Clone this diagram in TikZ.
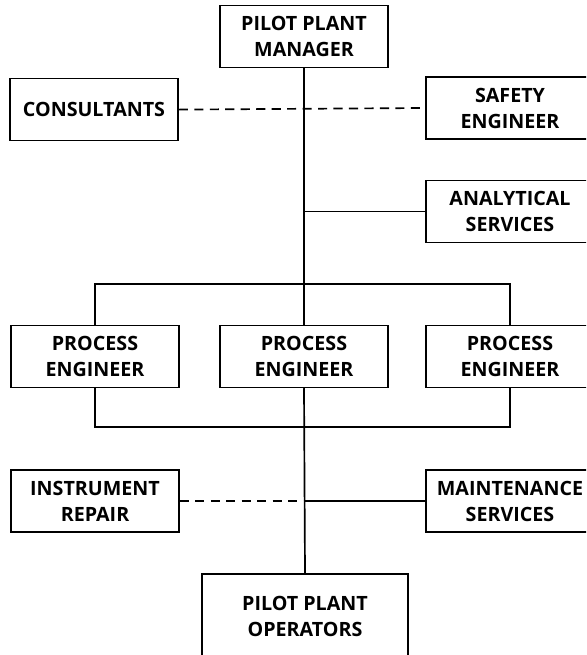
\documentclass[tikz,border=0pt]{standalone}
\usepackage{fontspec}
\setmainfont{Open Sans}
\tikzset{
    box/.style={draw,line width=1.2pt,minimum width=4.2cm,minimum height=1.55cm,align=center,anchor=center,
        font=\bfseries\fontsize{14}{18.5}\selectfont},
    link/.style={line width=1.2pt},
    dotlink/.style={line width=1.2pt,dash pattern=on 6.5pt off 4.5pt}
}
\begin{document}
\begin{tikzpicture}
        \useasboundingbox (0,0) rectangle (14.65,-16.375);
        \clip (0,0) rectangle (14.65,-16.375);
        % top level
        \node[box] (M) at (7.6,-0.91) {PILOT PLANT\\MANAGER};
        \node[box] (C) at (2.35,-2.74) {CONSULTANTS};
        \node[box] (S) at (12.75,-2.7) {SAFETY\\ENGINEER};
        \node[box] (An) at (12.75,-5.29) {ANALYTICAL\\SERVICES};
        % engineers
        \node[box] (P1) at (2.375,-8.91) {PROCESS\\ENGINEER};
        \node[box] (P2) at (7.6,-8.91) {PROCESS\\ENGINEER};
        \node[box] (P3) at (12.75,-8.91) {PROCESS\\ENGINEER};
        % support and operators
        \node[box] (IR) at (2.375,-12.525) {INSTRUMENT\\REPAIR};
        \node[box] (MS) at (12.75,-12.525) {MAINTENANCE\\SERVICES};
        \node[box,minimum width=5.15cm,minimum height=2.1cm] (O) at (7.625,-15.4) {PILOT PLANT\\OPERATORS};
        \draw[link] (M.south) -- (P2.north);
        \draw[dotlink] (C.east) -- (S.west);
        \draw[link] (An.west) -- (An.west -| M.south);
        \draw[link] (P1.north) -- ++(0,1.02) -| (P3.north);
        \draw[link] (P1.south) -- ++(0,-0.97) -| (P3.south);
        \draw[link] (P2.south) -- (O.north);
        \draw[dotlink] (IR.east) -- (IR.east -| P2.south);
        \draw[link] (MS.west) -- (MS.west -| P2.south);
    \end{tikzpicture}
\end{document}
